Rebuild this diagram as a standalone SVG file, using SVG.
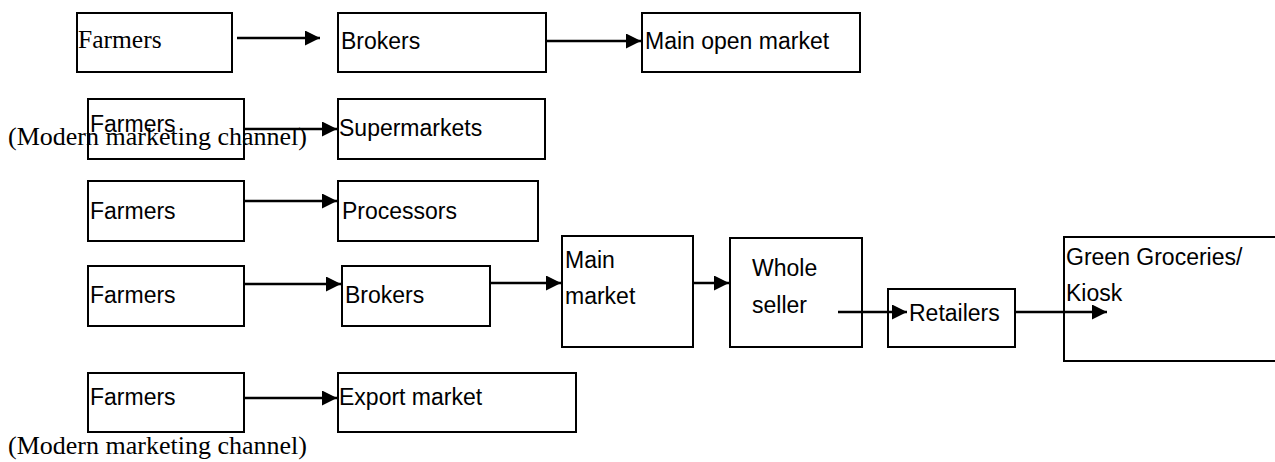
<svg xmlns="http://www.w3.org/2000/svg" width="1275" height="462" viewBox="0 0 1275 462">
<style>
.box{fill:#fff;stroke:#000;stroke-width:2}
.t{font-family:"Liberation Sans",Arial,sans-serif;font-size:23px;fill:#000}
.s{font-family:"Liberation Serif","Times New Roman",serif;font-size:25px;fill:#000}
.c{stroke:#000;stroke-width:2.5;fill:none;marker-end:url(#ah)}
</style>
<defs>
<marker id="ah" viewBox="0 0 10 10" refX="10" refY="5" markerWidth="6.4" markerHeight="6" markerUnits="strokeWidth" orient="auto">
<path d="M0,0 L10,5 L0,10 Z" fill="#000"/>
</marker>
</defs>
<g id="n1"><rect class="box" x="77" y="13" width="155" height="59"/><text class="s" x="78" y="48" style="font-size:25.5px">Farmers</text></g>
<g id="n2"><rect class="box" x="338" y="13" width="208" height="59"/><text class="t" x="341" y="49">Brokers</text></g>
<g id="n3"><rect class="box" x="642" y="13" width="218" height="59"/><text class="t" x="645" y="49">Main open market</text></g>
<g id="n4"><rect class="box" x="88" y="99" width="156" height="60"/><text class="t" x="90" y="132">Farmers</text></g>
<g id="n5"><rect class="box" x="338" y="99" width="207" height="60"/><text class="t" x="339" y="136">Supermarkets</text></g>
<g id="n6"><rect class="box" x="88" y="181" width="156" height="60"/><text class="t" x="90" y="219">Farmers</text></g>
<g id="n7"><rect class="box" x="338" y="181" width="200" height="60"/><text class="t" x="342" y="219">Processors</text></g>
<g id="n8"><rect class="box" x="88" y="266" width="156" height="60"/><text class="t" x="90" y="303">Farmers</text></g>
<g id="n9"><rect class="box" x="342" y="266" width="148" height="60"/><text class="t" x="345" y="303">Brokers</text></g>
<g id="n10"><rect class="box" x="562" y="236" width="131" height="111"/><text class="t" x="565" y="268">Main</text><text class="t" x="565" y="304">market</text></g>
<g id="n11"><rect class="box" x="730" y="238" width="132" height="109"/><text class="t" x="752" y="276">Whole</text><text class="t" x="752" y="313">seller</text></g>
<g id="n12"><rect class="box" x="888" y="289" width="127" height="58"/><text class="t" x="909" y="321">Retailers</text></g>
<g id="n13"><rect class="box" x="1064" y="237" width="220" height="124"/><text class="t" x="1066" y="265">Green Groceries/</text><text class="t" x="1066" y="301">Kiosk</text></g>
<g id="n14"><rect class="box" x="88" y="373" width="156" height="59"/><text class="t" x="90" y="405">Farmers</text></g>
<g id="n15"><rect class="box" x="338" y="373" width="238" height="59"/><text class="t" x="339" y="405">Export market</text></g>
<text class="s" x="8" y="145" textLength="299" lengthAdjust="spacingAndGlyphs">(Modern marketing channel)</text>
<text class="s" x="8" y="454" textLength="299" lengthAdjust="spacingAndGlyphs">(Modern marketing channel)</text>
<g id="connectors">
<line class="c" x1="237" y1="38" x2="320" y2="38"/>
<line class="c" x1="546" y1="41" x2="641" y2="41"/>
<line class="c" x1="244" y1="129" x2="337" y2="129"/>
<line class="c" x1="244" y1="201" x2="337" y2="201"/>
<line class="c" x1="244" y1="284" x2="341" y2="284"/>
<line class="c" x1="490" y1="283" x2="561" y2="283"/>
<line class="c" x1="693" y1="283" x2="729" y2="283"/>
<line class="c" x1="838" y1="312" x2="907" y2="312"/>
<line class="c" x1="1015" y1="312" x2="1107" y2="312"/>
<line class="c" x1="244" y1="398" x2="337" y2="398"/>
</g>
</svg>
